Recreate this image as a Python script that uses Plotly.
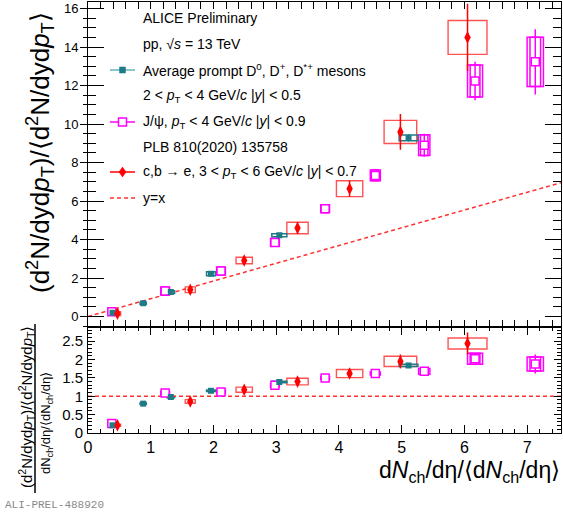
import plotly.graph_objects as go

# ---------------- data ----------------
# Average prompt D0, D+, D*+ mesons
d_x = [0.39, 0.88, 1.32, 1.96, 3.05, 5.11]
d_y = [0.20, 0.69, 1.27, 2.22, 4.22, 9.28]
d_err = [0.03, 0.03, 0.04, 0.05, 0.08, 0.20]
d_sx = [0.05, 0.05, 0.06, 0.07, 0.12, 0.15]
d_sy = [0.05, 0.05, 0.07, 0.10, 0.08, 0.15]
d_r = [0.21, 0.80, 0.98, 1.15, 1.39, 1.84]
d_rerr = [0.01, 0.01, 0.01, 0.02, 0.02, 0.03]
d_rsy = [0.02, 0.02, 0.02, 0.02, 0.02, 0.03]

# J/psi
j_x = [0.38, 1.23, 2.12, 2.98, 3.78, 4.58, 5.36, 6.17, 7.13]
j_y = [0.25, 1.32, 2.36, 3.85, 5.60, 7.33, 8.90, 12.24, 13.23]
j_err = [0.10, 0.10, 0.10, 0.10, 0.10, 0.15, 0.60, 1.00, 1.70]
j_sx = [0.06, 0.07, 0.07, 0.07, 0.07, 0.08, 0.09, 0.12, 0.13]
j_sy = [0.15, 0.20, 0.20, 0.20, 0.20, 0.28, 0.54, 0.83, 1.28]
j_r = [0.26, 1.09, 1.12, 1.30, 1.50, 1.62, 1.68, 2.02, 1.88]
j_rerr = [0.03, 0.03, 0.03, 0.03, 0.03, 0.03, 0.06, 0.10, 0.26]
j_rsy = [0.05, 0.05, 0.05, 0.05, 0.04, 0.04, 0.08, 0.15, 0.19]

# c,b -> e
e_x = [0.47, 1.63, 2.49, 3.34, 4.17, 4.98, 6.05]
e_y = [0.15, 1.39, 2.91, 4.60, 6.64, 9.59, 14.50]
e_err = [0.15, 0.15, 0.20, 0.30, 0.42, 0.93, 1.75]
e_sx = [0.05, 0.08, 0.13, 0.17, 0.21, 0.26, 0.31]
e_sy = [0.10, 0.15, 0.17, 0.30, 0.41, 0.60, 0.88]
e_r = [0.21, 0.86, 1.18, 1.40, 1.62, 1.95, 2.44]
e_rerr = [0.05, 0.07, 0.06, 0.08, 0.08, 0.19, 0.30]
e_rsy = [0.03, 0.05, 0.07, 0.09, 0.11, 0.14, 0.15]

# dashed reference lines as drawn in the reference
yx_x = [0, 7.54]
yx_y = [0, 6.95]
one_y = [1, 1]

x_range = [0, 7.54]
y_top_range = [-0.52, 16.34]
y_bot_range = [0, 2.89]

TEAL = "#1f7a87"
TEAL_L = "#62b5bd"
MAG = "#ff00ff"
RED = "#ff0000"
RED_BOX = "rgba(255,40,40,0.8)"
FONT = "Liberation Sans, Arial, Helvetica, sans-serif"

# ---------------- geometry helpers (pixels -> paper) ----------------
W_FIG, H_FIG = 563, 513
L, R, T, B = 88, 561, 2, 433
PW, PH = R - L, B - T


def px(x):
    return (x - L) / PW


def py(y):
    return (B - y) / PH


SPLIT = (B - 326.5) / PH

fig = go.Figure()

shapes = []


def add_boxes(xs, ys, sx, sy, xref, yref, color, width=1.2, inner=False):
    for x, y, hx, hy in zip(xs, ys, sx, sy):
        shapes.append(dict(type="rect", xref=xref, yref=yref, x0=x - hx, x1=x + hx,
                           y0=y - hy, y1=y + hy, line=dict(color=color, width=width),
                           fillcolor="rgba(0,0,0,0)", layer="below"))
        if inner:
            shapes.append(dict(type="rect", xref=xref, yref=yref, x0=x - 0.65 * hx,
                               x1=x + 0.65 * hx, y0=y - hy, y1=y + hy,
                               line=dict(color=color, width=width),
                               fillcolor="rgba(0,0,0,0)", layer="below"))


# top panel (x2, y2)
add_boxes(e_x, e_y, e_sx, e_sy, "x2", "y2", RED_BOX, 1.4)
add_boxes(j_x, j_y, j_sx, j_sy, "x2", "y2", MAG, 1.5, inner=True)
add_boxes(d_x, d_y, d_sx, d_sy, "x2", "y2", TEAL, 1.5)
# bottom panel (x, y)
add_boxes(e_x, e_r, e_sx, e_rsy, "x", "y", RED_BOX, 1.4)
add_boxes(j_x, j_r, j_sx, j_rsy, "x", "y", MAG, 1.5, inner=True)
add_boxes(d_x, d_r, d_sx, d_rsy, "x", "y", TEAL, 1.5)

# reference lines
fig.add_trace(go.Scatter(x=yx_x, y=yx_y, xaxis="x2", yaxis="y2", mode="lines",
                         line=dict(color="#ff3030", width=1.5, dash="4px,3px"),
                         showlegend=False, hoverinfo="skip"))
fig.add_trace(go.Scatter(x=x_range, y=one_y, xaxis="x", yaxis="y", mode="lines",
                         line=dict(color="#ff3030", width=1.5, dash="4px,3px"),
                         showlegend=False, hoverinfo="skip"))


def series(xs, ys, err, xa, ya, symbol, size, color, fill, lw, ecol, eth):
    fig.add_trace(go.Scatter(
        x=xs, y=ys, xaxis=xa, yaxis=ya, mode="markers",
        marker=dict(symbol=symbol, size=size, color=fill,
                    line=dict(color=color, width=lw)),
        error_y=dict(type="data", array=err, width=0, thickness=eth, color=ecol),
        showlegend=False, hoverinfo="skip"))


for xa, ya, dy, jy, ey, de, je, ee in [
        ("x2", "y2", d_y, j_y, e_y, d_err, j_err, e_err),
        ("x", "y", d_r, j_r, e_r, d_rerr, j_rerr, e_rerr)]:
    series(j_x, jy, je, xa, ya, "square", 8, MAG, "white", 1.5, MAG, 1.5)
    series(d_x, dy, de, xa, ya, "square", 6, TEAL, TEAL, 0, TEAL, 1)
    series(e_x, ey, ee, xa, ya, "diamond-tall", 9, RED, RED, 0, RED, 1.5)

# helper trace for the outside-tick overlay axis
fig.add_trace(go.Scatter(x=[None], y=[None], xaxis="x2", yaxis="y3",
                         showlegend=False, hoverinfo="skip"))

# ---------------- legend (drawn by hand, ROOT style) ----------------
legend_rows = [
    (18, "ALICE Preliminary"),
    (44, "pp, √<i>s</i> = 13 TeV"),
    (70, "Average prompt D<sup>0</sup>, D<sup>+</sup>, D<sup>*+</sup> mesons"),
    (96, "2 &lt; <i>p</i><sub>T</sub> &lt; 4 GeV/<i>c</i> |<i>y</i>| &lt; 0.5"),
    (122, "J/ψ, <i>p</i><sub>T</sub> &lt; 4 GeV/<i>c</i> |<i>y</i>| &lt; 0.9"),
    (147, "PLB 810(2020) 135758"),
    (172, "c,b → e, 3 &lt; <i>p</i><sub>T</sub> &lt; 6 GeV/<i>c</i> |<i>y</i>| &lt; 0.7"),
    (198, "y=x"),
]
annotations = []
for yy, txt in legend_rows:
    annotations.append(dict(text=txt, xref="paper", yref="paper", x=px(141), y=py(yy),
                            xanchor="left", yanchor="middle", showarrow=False,
                            font=dict(family=FONT, size=14, color="black")))


def pline(x0, x1, y, color, dash=None, width=1.5):
    d = dict(type="line", xref="paper", yref="paper", x0=px(x0), x1=px(x1),
             y0=py(y), y1=py(y), line=dict(color=color, width=width))
    if dash:
        d["line"]["dash"] = dash
    shapes.append(d)


def prect(cx, cy, h, color, fill, width):
    shapes.append(dict(type="rect", xref="paper", yref="paper",
                       x0=px(cx - h), x1=px(cx + h), y0=py(cy + h), y1=py(cy - h),
                       line=dict(color=color, width=width), fillcolor=fill))


pline(110, 135, 70, TEAL_L)
prect(122.5, 70, 3, TEAL, TEAL, 0.5)
pline(110, 135, 122, MAG)
prect(122.5, 122, 4, MAG, "white", 1.5)
pline(110, 135, 172, RED)
cx, cy = 122.5, 172
shapes.append(dict(type="path", xref="paper", yref="paper",
                   path=f"M {px(cx)} {py(cy-5)} L {px(cx+3.5)} {py(cy)} L {px(cx)} {py(cy+5)} L {px(cx-3.5)} {py(cy)} Z",
                   fillcolor=RED, line=dict(color=RED, width=0.5)))
pline(110, 135, 198, "#ff3030", dash="4px,3px")

# ---------------- axis titles ----------------
num = "(d<sup>2</sup>N/dyd<i>p</i><sub>T</sub>)/⟨d<sup>2</sup>N/dyd<i>p</i><sub>T</sub>⟩"
annotations.append(dict(text=num, xref="paper", yref="paper", x=px(40), y=py(153),
                        xanchor="center", yanchor="middle", textangle=-90, showarrow=False,
                        font=dict(family=FONT, size=26, color="black")))
annotations.append(dict(text=num, xref="paper", yref="paper", x=px(26), y=py(407),
                        xanchor="center", yanchor="middle", textangle=-90, showarrow=False,
                        font=dict(family=FONT, size=15, color="black")))
annotations.append(dict(text="dN<sub>ch</sub>/dη/⟨dN<sub>ch</sub>/dη⟩", xref="paper", yref="paper",
                        x=px(46), y=py(423), xanchor="center", yanchor="middle", textangle=-90,
                        showarrow=False, font=dict(family=FONT, size=13, color="black")))
shapes.append(dict(type="line", xref="paper", yref="paper", x0=px(35), x1=px(35),
                   y0=py(324), y1=py(493), line=dict(color="black", width=1.5)))
annotations.append(dict(text="d<i>N</i><sub>ch</sub>/dη/⟨d<i>N</i><sub>ch</sub>/dη⟩",
                        xref="paper", yref="paper", x=px(562), y=py(472),
                        xanchor="right", yanchor="middle", showarrow=False,
                        font=dict(family=FONT, size=23, color="black")))
annotations.append(dict(text="ALI-PREL-488920", xref="paper", yref="paper", x=px(3), y=py(505),
                        xanchor="left", yanchor="middle", showarrow=False,
                        font=dict(family="Liberation Mono, Courier New, monospace", size=11,
                                  color="#8a8a8a")))

axis_common = dict(showline=True, linecolor="black", linewidth=1, showgrid=False,
                   zeroline=False, mirror="allticks", ticks="inside", tickcolor="black")

fig.update_layout(
    width=W_FIG, height=H_FIG,
    margin=dict(l=L, r=W_FIG - R, t=T, b=H_FIG - B),
    paper_bgcolor="white", plot_bgcolor="white",
    showlegend=False,
    xaxis=dict(axis_common, domain=[0, 1], anchor="y", range=x_range, dtick=1, tick0=0,
               ticklen=8, tickwidth=1,
               minor=dict(dtick=0.2, ticks="inside", ticklen=4, tickcolor="black"),
               tickfont=dict(family=FONT, size=16, color="black"), ticklabelstandoff=0),
    yaxis=dict(axis_common, domain=[0, SPLIT - 0.001], anchor="x", range=y_bot_range,
               dtick=0.5, tick0=0, ticklen=7,
               minor=dict(dtick=0.1, ticks="inside", ticklen=4, tickcolor="black"),
               tickfont=dict(family=FONT, size=15, color="black"), ticklabelstandoff=1),
    xaxis2=dict(axis_common, domain=[0, 1], anchor="y2", matches="x", range=x_range,
                dtick=1, tick0=0, ticklen=7, showticklabels=False,
                minor=dict(dtick=0.2, ticks="inside", ticklen=3, tickcolor="black")),
    yaxis2=dict(axis_common, domain=[SPLIT, 1], anchor="x2", range=y_top_range,
                dtick=2, tick0=0, ticklen=16,
                minor=dict(dtick=0.5, ticks="inside", ticklen=8, tickcolor="black"),
                tickfont=dict(family=FONT, size=13, color="black"), ticklabelstandoff=6),
    yaxis3=dict(overlaying="y2", anchor="x2", side="left", range=y_top_range,
                showline=False, showgrid=False, zeroline=False, showticklabels=False,
                ticks="outside", ticklen=7, dtick=2, tick0=0, tickcolor="black",
                minor=dict(dtick=0.5, ticks="outside", ticklen=4, tickcolor="black")),
    shapes=shapes,
    annotations=annotations,
)

fig.write_html("out.html")
